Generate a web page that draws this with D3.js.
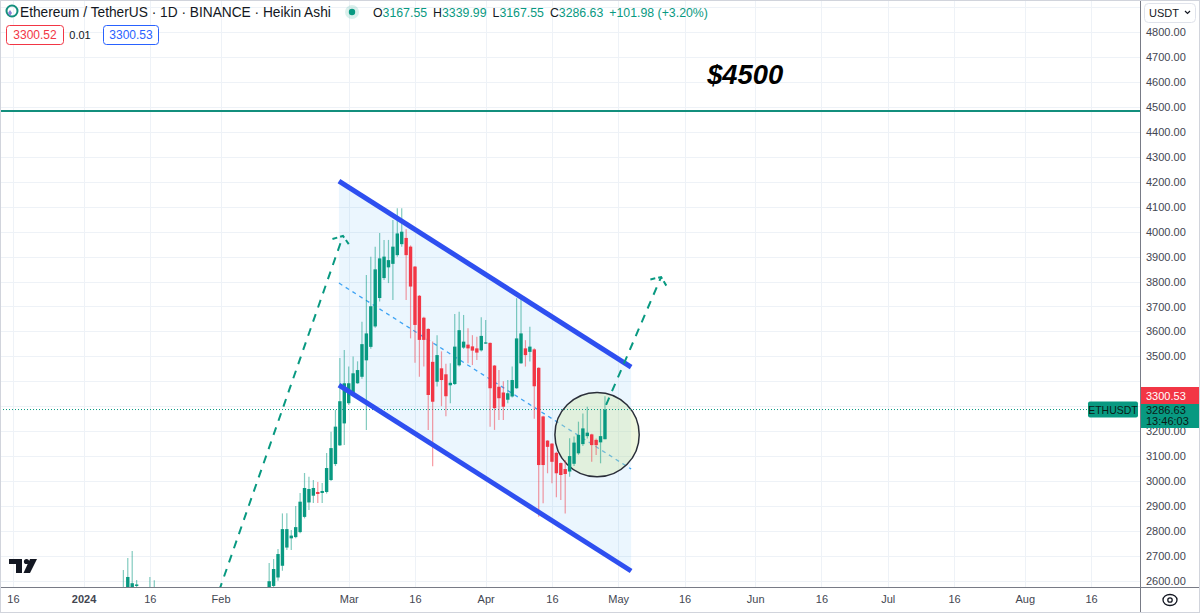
<!DOCTYPE html>
<html>
<head>
<meta charset="utf-8">
<script src="https://cdn.jsdelivr.net/npm/d3@7"></script>
<style>
  body{margin:0;background:#fff;}
  svg{display:block;font-family:"Liberation Sans",Arial,sans-serif;}
</style>
</head>
<body>
<div id="content"></div>
<script>
(function(){

  //////////////////////////////////////////////////////////////
  //////////////// data: ETHUSDT 1D heikin ashi //////////////////
  //////////////////////////////////////////////////////////////
  var dates=["2024-01-10","2024-01-11","2024-01-12","2024-01-13","2024-01-16","2024-01-17",
    "2024-02-12","2024-02-13","2024-02-14","2024-02-15","2024-02-16","2024-02-17","2024-02-18","2024-02-19","2024-02-20",
    "2024-02-21","2024-02-22","2024-02-23","2024-02-24","2024-02-25","2024-02-26","2024-02-27","2024-02-28","2024-02-29",
    "2024-03-01","2024-03-02","2024-03-03","2024-03-04","2024-03-05","2024-03-06","2024-03-07","2024-03-08","2024-03-09",
    "2024-03-10","2024-03-11","2024-03-12","2024-03-13","2024-03-14","2024-03-15","2024-03-16","2024-03-17","2024-03-18",
    "2024-03-19","2024-03-20","2024-03-21","2024-03-22","2024-03-23","2024-03-24","2024-03-25","2024-03-26","2024-03-27",
    "2024-03-28","2024-03-29","2024-03-30","2024-03-31",
    "2024-04-01","2024-04-02","2024-04-03","2024-04-04","2024-04-05","2024-04-06","2024-04-07","2024-04-08","2024-04-09",
    "2024-04-10","2024-04-11","2024-04-12","2024-04-13","2024-04-14","2024-04-15","2024-04-16","2024-04-17","2024-04-18",
    "2024-04-19","2024-04-20","2024-04-21","2024-04-22","2024-04-23","2024-04-24","2024-04-25","2024-04-26","2024-04-27",
    "2024-04-28"];

  var open=[2480,2520,2568,2579,2530,2540,
    2560,2579,2613,2660,2733,2770,2775,2795,2856,2914,2941,2956,2952,2956,3004,3068,3143,3231,
    3312,3352,3392,3418,3484,3538,3620,3734,3814,3857,3871,3906,3950,3975,3940,3860,3743,3655,3610,3478,3398,3452,3428,3384,3389,3464,3535,3547,3540,3532,3524,
    3553,3554,3463,3378,3355,3326,3339,3372,3472,3532,3518,3528,3454,3259,3162,3150,3113,3072,3048,3038,3069,3111,3148,3180,3187,3165,3155,3167.55];

  var high=[2643,2691,2719,2603,2615,2602,
    2671,2687,2727,2870,2871,2803,2900,2952,3032,3017,3004,2996,2992,3112,3198,3285,3493,3525,
    3459,3499,3480,3639,3826,3900,3940,3995,3967,3967,4047,4094,4094,4010,3945,3862,3746,3659,3613,3560,3585,3520,3470,3472,3670,3679,3666,3613,3585,3579,3657,
    3646,3556,3465,3445,3400,3405,3459,3733,3733,3565,3619,3532,3456,3262,3164,3151,3117,3074,3084,3171,3178,3238,3271,3298,3190,3170,3288,3339.99];

  var low=[2450,2500,2480,2480,2480,2490,
    2540,2570,2600,2640,2723,2723,2770,2790,2850,2884,2912,2912,2912,2950,3000,3060,3140,3144,
    3305,3350,3390,3410,3205,3530,3615,3720,3806,3794,3726,3900,3940,3726,3572,3474,3418,3459,3205,3059,3379,3300,3260,3312,3385,3459,3530,3472,3465,3485,3519,
    3550,3218,3205,3245,3245,3312,3335,3370,3470,3459,3479,3250,2857,2911,3031,2991,2935,2924,2870,3017,3060,3105,3140,3170,3077,3104,3071,3167.55];

  var close=[2560,2615,2590,2585,2550,2560,
    2598,2647,2707,2807,2807,2781,2815,2917,2972,2968,2972,2948,2960,3052,3132,3218,3320,3392,
    3392,3432,3445,3549,3592,3701,3849,3893,3900,3886,3940,3993,4000,3906,3780,3626,3566,3566,3345,3318,3505,3405,3340,3394,3539,3605,3559,3532,3523,3515,3582,
    3556,3372,3292,3332,3298,3352,3405,3572,3592,3505,3539,3380,3064,3064,3137,3077,3031,3024,3028,3100,3154,3185,3211,3194,3144,3144,3180,3286.63];

  // axis ticks
  var priceGrid=d3.range(2600,4901,100);
  var priceTicks=d3.range(2600,4801,100);
  var timeTicks=["2023-12-16","2024-01-01","2024-01-16","2024-02-01","2024-03-01","2024-03-16","2024-04-01","2024-04-16",
    "2024-05-01","2024-05-16","2024-06-01","2024-06-16","2024-07-01","2024-07-16","2024-08-01","2024-08-16"];
  var timeTickLabels=["16","2024","16","Feb","Mar","16","Apr","16","May","16","Jun","16","Jul","16","Aug","16"];

  // drawings: parallel channel, target line, arrows, circle
  var channelTime=["2024-02-27T19:00:00Z","2024-05-03T22:00:00Z"];
  var channelUpper=[4203,3457];
  var channelLower=[3385,2639];
  var targetPrice=4484;
  var targetText="$4500";
  var targetTextAt={time:"2024-05-21T03:00:00Z",price:4593};
  var arrowUpTime=["2024-01-31T16:00:00Z","2024-02-28T17:00:00Z"];
  var arrowUpPrice=[2560,3983];
  var arrowNextTime=["2024-04-28T06:00:00Z","2024-05-10T17:00:00Z"];
  var arrowNextPrice=[3305,3818];
  var circleCenter={time:"2024-04-26T05:00:00Z",price:3186};
  var circleEdgeTime="2024-05-05T18:00:00Z";

  var lastPrice=3286.63, bidPrice=3300.52, askPrice=3300.53;

  //////////////////////////////////////////////////////////////
  ///////////////////////// chart ////////////////////////////////
  //////////////////////////////////////////////////////////////
  var width=1200, height=613,
      plotRight=1140, plotBottom=587;

  var up="#089981", down="#f23645", grid="#eef2f7";

  var parseDate=d3.utcParse("%Y-%m-%d");
  var fmt=d3.format(".2f");

  var candles=dates.map(function(d,i){
    return {date:parseDate(d),o:open[i],h:high[i],l:low[i],c:close[i]};
  });

  var x=d3.scaleUtc()
      .domain([parseDate("2024-01-01"),parseDate("2024-08-16")])
      .range([83.6,1091]);

  var y=d3.scaleLinear()
      .domain([3000,4500])
      .range([481,107.05]);

  var svg=d3.select("#content")
      .append("svg")
      .attr("width",width)
      .attr("height",height);

  svg.append("rect")
      .attr("width",width)
      .attr("height",height)
      .attr("fill","#fff");

  // shrink / grow a text so it spans the given width
  function fitWidth(sel,w){
    var fs=parseFloat(sel.style("font-size")),
        bw=sel.node().getBBox().width;
    sel.style("font-size",(fs*w/bw)+"px");
  }

  var defs=svg.append("defs");
  defs.append("clipPath").attr("id","plotClip")
    .append("rect").attr("x",0).attr("y",0).attr("width",plotRight).attr("height",plotBottom);
  var axisClip=defs.append("clipPath").attr("id","axisClip");
  axisClip.append("rect").attr("x",plotRight).attr("y",0).attr("width",width-plotRight).attr("height",387);
  axisClip.append("rect").attr("x",plotRight).attr("y",428).attr("width",width-plotRight).attr("height",plotBottom-428);

  var plot=svg.append("g").attr("clip-path","url(#plotClip)");

  // grid
  plot.selectAll(".hgrid")
      .data(priceGrid)
    .enter().append("line")
      .attr("x1",0).attr("x2",plotRight)
      .attr("y1",function(d){return Math.round(y(d))+0.5;})
      .attr("y2",function(d){return Math.round(y(d))+0.5;})
      .style("stroke",grid);

  plot.selectAll(".vgrid")
      .data(timeTicks)
    .enter().append("line")
      .attr("x1",function(d){return Math.round(x(parseDate(d)))+0.5;})
      .attr("x2",function(d){return Math.round(x(parseDate(d)))+0.5;})
      .attr("y1",0).attr("y2",plotBottom)
      .style("stroke",grid);

  // channel
  var cT=channelTime.map(function(t){return x(d3.isoParse(t));});
  var chan=[[cT[0],y(channelUpper[0])],[cT[1],y(channelUpper[1])],[cT[1],y(channelLower[1])],[cT[0],y(channelLower[0])]];

  plot.append("path")
      .attr("d","M"+chan.join("L")+"Z")
      .style("fill","rgba(33,150,243,0.09)")
      .style("stroke","none");

  plot.append("line")
      .attr("x1",cT[0]).attr("x2",cT[1])
      .attr("y1",y((channelUpper[0]+channelLower[0])/2))
      .attr("y2",y((channelUpper[1]+channelLower[1])/2))
      .style("stroke","#2196f3")
      .style("stroke-width",1.3)
      .style("stroke-dasharray","4,4")
      .style("opacity",0.85);

  // circle
  var cx=x(d3.isoParse(circleCenter.time)), cy=y(circleCenter.price),
      cr=x(d3.isoParse(circleEdgeTime))-cx;
  plot.append("circle")
      .attr("cx",cx).attr("cy",cy).attr("r",cr)
      .style("fill","rgba(205,230,160,0.35)")
      .style("stroke","#2a2e39")
      .style("stroke-width",1.5);

  // last price line
  plot.append("line")
      .attr("x1",0).attr("x2",1088)
      .attr("y1",y(lastPrice)).attr("y2",y(lastPrice))
      .style("stroke",up)
      .style("stroke-width",1)
      .style("stroke-dasharray","1,2");

  // candles
  var bw=3.4;
  var candle=plot.selectAll(".candle")
      .data(candles)
    .enter().append("g")
      .attr("class","candle");

  candle.append("line")
      .attr("x1",function(d){return x(d.date);})
      .attr("x2",function(d){return x(d.date);})
      .attr("y1",function(d){return y(d.h);})
      .attr("y2",function(d){return y(d.l);})
      .style("stroke",function(d){return d.c>=d.o?up:down;})
      .style("stroke-width",1.2)
      .style("opacity",0.5);

  candle.append("rect")
      .attr("x",function(d){return x(d.date)-bw/2;})
      .attr("width",bw)
      .attr("y",function(d){return y(Math.max(d.o,d.c));})
      .attr("height",function(d){return Math.max(1.2,Math.abs(y(d.o)-y(d.c)));})
      .style("fill",function(d){return d.c>=d.o?up:down;});

  // channel borders
  [channelUpper,channelLower].forEach(function(p){
    plot.append("line")
        .attr("x1",cT[0]).attr("x2",cT[1])
        .attr("y1",y(p[0])).attr("y2",y(p[1]))
        .style("stroke","#2e4ff0")
        .style("stroke-width",5)
        .style("stroke-linecap","butt");
  });

  // target level
  plot.append("line")
      .attr("x1",0).attr("x2",plotRight)
      .attr("y1",y(targetPrice)).attr("y2",y(targetPrice))
      .style("stroke","#138f7d")
      .style("stroke-width",2);

  var target=plot.append("text")
      .attr("x",x(d3.isoParse(targetTextAt.time)))
      .attr("y",y(targetTextAt.price))
      .style("font-size","24px")
      .style("font-weight","bold")
      .style("font-style","italic")
      .style("fill","#000")
      .text(targetText);
  fitWidth(target,78);

  // dashed arrows
  function arrow(times,prices){
    var x0=x(d3.isoParse(times[0])), y0=y(prices[0]),
        x1=x(d3.isoParse(times[1])), y1=y(prices[1]);
    plot.append("line")
        .attr("x1",x0).attr("y1",y0).attr("x2",x1).attr("y2",y1)
        .style("stroke",up)
        .style("stroke-width",2)
        .style("stroke-dasharray","8,7");
    var a=Math.atan2(y0-y1,x0-x1), len=11, sp=0.95;
    var head="M"+(x1+len*Math.cos(a+sp))+","+(y1+len*Math.sin(a+sp))+
             "L"+x1+","+y1+
             "L"+(x1+len*Math.cos(a-sp))+","+(y1+len*Math.sin(a-sp));
    plot.append("path")
        .attr("d",head)
        .style("fill","none")
        .style("stroke",up)
        .style("stroke-width",2)
        .style("stroke-dasharray","5,3");
  }
  arrow(arrowUpTime,arrowUpPrice);
  arrow(arrowNextTime,arrowNextPrice);

  // ETHUSDT tag
  svg.append("rect")
      .attr("x",1088).attr("y",y(lastPrice)-8).attr("width",50).attr("height",16)
      .attr("rx",2)
      .style("fill",up);
  svg.append("text")
      .attr("x",1113).attr("y",y(lastPrice)+4)
      .attr("text-anchor","middle")
      .style("font-size","10.5px")
      .style("fill","#0b1b17")
      .text("ETHUSDT");

  //////////////////////////////////////////////////////////////
  //////////////////////// axes //////////////////////////////////
  //////////////////////////////////////////////////////////////
  svg.append("line")
      .attr("x1",plotRight+0.5).attr("x2",plotRight+0.5)
      .attr("y1",0).attr("y2",height)
      .style("stroke","#787b86");
  svg.append("line")
      .attr("x1",0).attr("x2",width)
      .attr("y1",plotBottom+0.5).attr("y2",plotBottom+0.5)
      .style("stroke","#787b86");

  // labels hidden behind the price tags are left out
  var yAxis=d3.axisRight(y)
      .tickValues(priceTicks.filter(function(p){return y(p)<381||y(p)>428;}))
      .tickSize(0)
      .tickPadding(6)
      .tickFormat(fmt);

  svg.append("g")
      .attr("clip-path","url(#axisClip)")
    .append("g")
      .attr("transform","translate("+plotRight+",0)")
      .call(yAxis)
      .call(function(g){g.select(".domain").remove();})
      .selectAll("text")
      .style("font-family","Liberation Sans, Arial, sans-serif")
      .style("font-size","11px")
      .style("fill","#434651");

  var xAxis=d3.axisBottom(x)
      .tickValues(timeTicks.map(parseDate))
      .tickSize(0)
      .tickPadding(8)
      .tickFormat(function(d,i){return timeTickLabels[i];});

  svg.append("g")
      .attr("transform","translate(0,"+plotBottom+")")
      .call(xAxis)
      .call(function(g){g.select(".domain").remove();})
      .selectAll("text")
      .style("font-family","Liberation Sans, Arial, sans-serif")
      .style("font-size","11px")
      .style("fill","#434651")
      .style("font-weight",function(d,i){return timeTickLabels[i]==="2024"?"bold":"normal";});

  // price tags on the axis
  svg.append("rect")
      .attr("x",plotRight+1).attr("y",387).attr("width",width-plotRight-1).attr("height",17)
      .style("fill",down);
  svg.append("text")
      .attr("x",1146).attr("y",399.5)
      .style("font-size","11px").style("fill","#fff")
      .text(fmt(askPrice));

  svg.append("rect")
      .attr("x",plotRight+1).attr("y",404).attr("width",width-plotRight-1).attr("height",24)
      .style("fill",up);
  svg.append("text")
      .attr("x",1146).attr("y",414)
      .style("font-size","11px").style("fill","#0b1b17")
      .text(fmt(lastPrice));
  svg.append("text")
      .attr("x",1146).attr("y",425)
      .style("font-size","11px").style("fill","#0b1b17")
      .text("13:46:03");

  // currency box
  svg.append("rect")
      .attr("x",1144.5).attr("y",3.5).attr("width",51).attr("height",19)
      .attr("rx",4)
      .style("fill","#fff").style("stroke","#e0e3eb");
  svg.append("text")
      .attr("x",1149).attr("y",17)
      .style("font-size","11px").style("fill","#131722")
      .text("USDT");
  svg.append("path")
      .attr("d","M1185,11 l2.5,2.5 l2.5,-2.5")
      .style("fill","none").style("stroke","#131722").style("stroke-width",1.2);

  // settings icon bottom right
  svg.append("ellipse")
      .attr("cx",1170).attr("cy",600).attr("rx",7).attr("ry",5.5)
      .style("fill","none").style("stroke","#131722").style("stroke-width",1.3);
  svg.append("circle")
      .attr("cx",1170).attr("cy",600).attr("r",2.2)
      .style("fill","none").style("stroke","#131722").style("stroke-width",1.3);

  //////////////////////////////////////////////////////////////
  //////////////////////// legend ////////////////////////////////
  //////////////////////////////////////////////////////////////
  svg.append("circle").attr("cx",12).attr("cy",11).attr("r",5.5)
      .style("fill","none").style("stroke","#138f7d").style("stroke-width",2);
  svg.append("path").attr("d","M8,13 l2,-3 l2,3 l-2,3z").style("fill","#8b7fd6");

  var title=svg.append("text")
      .attr("x",20).attr("y",16.5)
      .style("font-size","13.5px")
      .style("fill","#131722")
      .text("Ethereum / TetherUS · 1D · BINANCE · Heikin Ashi");
  fitWidth(title,311);

  svg.append("circle").attr("cx",352).attr("cy",12).attr("r",7).style("fill","rgba(8,153,129,0.15)");
  svg.append("circle").attr("cx",352).attr("cy",12).attr("r",3.2).style("fill",up);

  var last=candles[candles.length-1];

  var ohlc=svg.append("text")
      .attr("x",373).attr("y",16.5)
      .style("font-size","13px");
  [["O",fmt(last.o)],["H",fmt(last.h)],["L",fmt(last.l)],["C",fmt(last.c)]].forEach(function(p,i){
    ohlc.append("tspan").attr("dx",i?6:0).style("fill","#131722").text(p[0]);
    ohlc.append("tspan").style("fill",up).text(p[1]);
  });
  ohlc.append("tspan").attr("dx",6).style("fill",up).text("+101.98 (+3.20%)");
  fitWidth(ohlc,334);

  // bid / ask boxes
  svg.append("rect").attr("x",6.5).attr("y",25.5).attr("width",57).attr("height",19).attr("rx",3)
      .style("fill","#fff").style("stroke",down);
  svg.append("text").attr("x",35).attr("y",39).attr("text-anchor","middle")
      .style("font-size","12px").style("fill",down).text(fmt(bidPrice));
  svg.append("text").attr("x",80).attr("y",39).attr("text-anchor","middle")
      .style("font-size","11px").style("fill","#131722").text(fmt(askPrice-bidPrice));
  svg.append("rect").attr("x",103.5).attr("y",25.5).attr("width",55).attr("height",19).attr("rx",3)
      .style("fill","#fff").style("stroke","#2962ff");
  svg.append("text").attr("x",131).attr("y",39).attr("text-anchor","middle")
      .style("font-size","12px").style("fill","#2962ff").text(fmt(askPrice));

  // tradingview logo
  svg.append("path").attr("d","M9,559 h13 v14 h-6 v-9 h-7z").style("fill","#131722");
  svg.append("circle").attr("cx",26.5).attr("cy",561.5).attr("r",2.6).style("fill","#131722");
  svg.append("path").attr("d","M30,559 h7 l-7,14 h-6.5z").style("fill","#131722");

  // outer frame
  svg.append("rect")
      .attr("x",0.5).attr("y",0.5).attr("width",width-1).attr("height",height-1)
      .style("fill","none").style("stroke","#d1d4dc");

})();
</script>
</body>
</html>
